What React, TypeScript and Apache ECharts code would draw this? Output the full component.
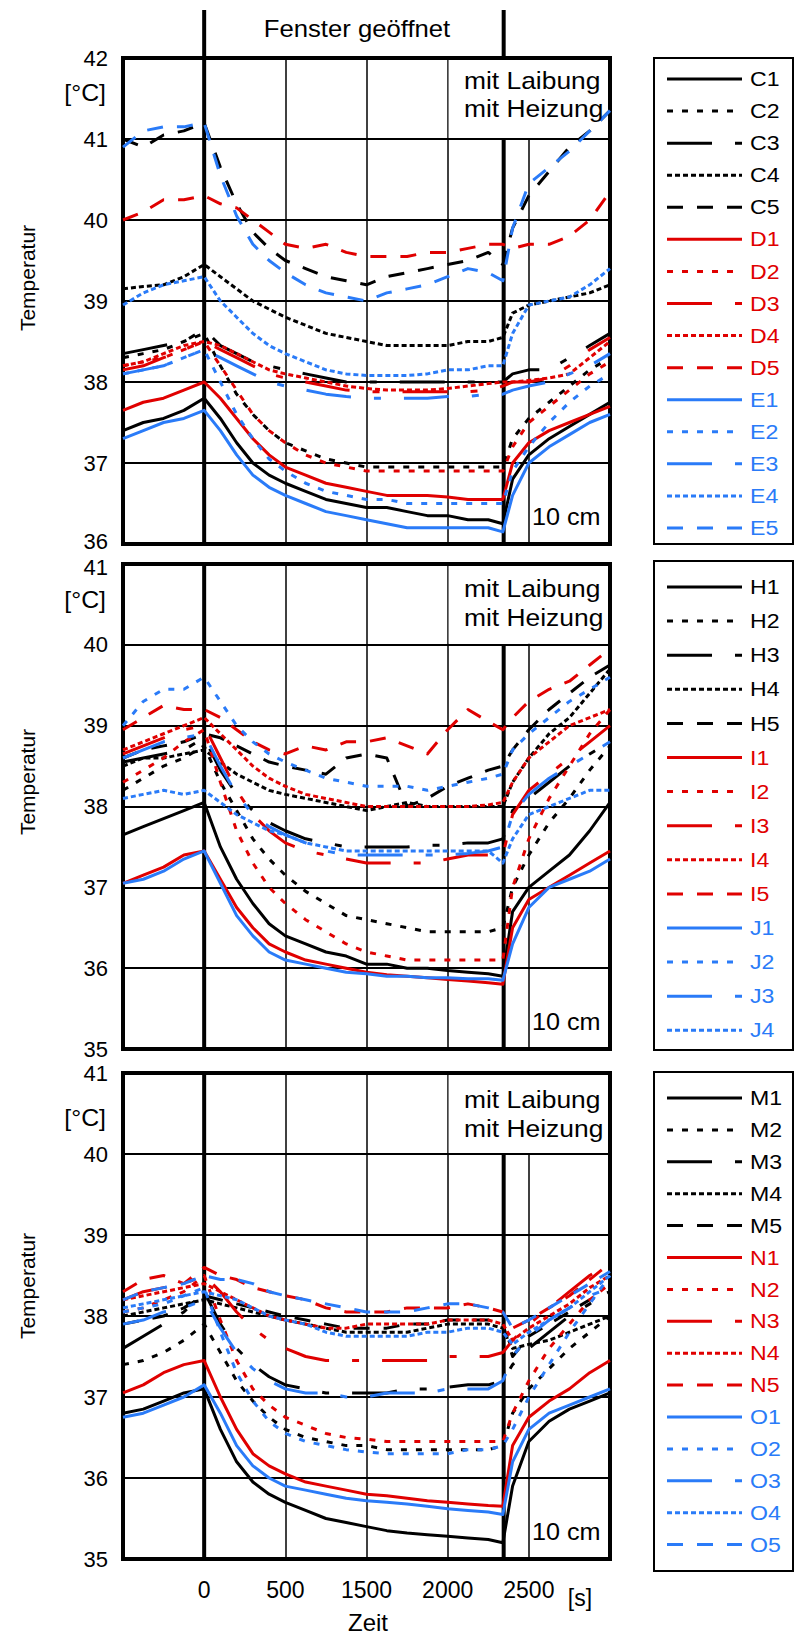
import { useEffect, useRef } from "react";
import * as echarts from "echarts";

// ---------- data ----------
const XS = [-1, -0.75, -0.5, -0.25, 0, 0.2, 0.4, 0.6, 0.8, 1, 1.25, 1.5, 1.75, 2, 2.25, 2.5, 2.75, 3, 3.25, 3.5, 3.68, 3.8, 4, 4.25, 4.5, 4.75, 5];
const X_TICKS = [-1, 0, 1, 2, 3, 4, 5];
const X_TICK_TEXT = ["", "0", "500", "1500", "2000", "2500", ""];
const WINDOW_OPEN = 0;
const WINDOW_CLOSE = 3.69;
const Y_MIN = [36, 35, 35];
const Y_MAX = [42, 41, 41];
const BOX_BOTTOM = [41, 40, 40];

// panel 1
const C1 = [37.4, 37.5, 37.55, 37.65, 37.8, 37.55, 37.25, 37.0, 36.85, 36.75, 36.65, 36.55, 36.5, 36.45, 36.45, 36.4, 36.35, 36.35, 36.3, 36.3, 36.25, 36.8, 37.1, 37.3, 37.45, 37.6, 37.75];
const C2 = [38.3, 38.35, 38.4, 38.5, 38.6, 38.2, 37.85, 37.6, 37.4, 37.25, 37.15, 37.05, 37.0, 36.95, 36.95, 36.95, 36.95, 36.95, 36.95, 36.95, 36.95, 37.3, 37.55, 37.75, 37.95, 38.15, 38.3];
const C3 = [38.35, 38.4, 38.45, 38.5, 38.65, 38.45, 38.35, 38.25, 38.2, 38.15, 38.1, 38.05, 38.0, 38.0, 38.0, 38.0, 38.0, 38.0, 38.0, 38.0, 38.0, 38.1, 38.15, 38.15, 38.3, 38.45, 38.6];
const C4 = [39.15, 39.18, 39.2, 39.3, 39.45, 39.3, 39.15, 39.0, 38.9, 38.8, 38.7, 38.6, 38.55, 38.5, 38.45, 38.45, 38.45, 38.45, 38.5, 38.5, 38.55, 38.85, 38.95, 39.0, 39.05, 39.1, 39.2];
const C5 = [41.0, 40.9, 41.05, 41.1, 41.2, 40.65, 40.2, 39.85, 39.65, 39.5, 39.4, 39.3, 39.25, 39.2, 39.3, 39.35, 39.4, 39.45, 39.5, 39.6, 39.45, 39.9, 40.3, 40.6, 40.9, 41.1, 41.35];
const D1 = [37.65, 37.75, 37.8, 37.9, 38.0, 37.8, 37.55, 37.3, 37.1, 36.95, 36.85, 36.75, 36.7, 36.65, 36.6, 36.6, 36.6, 36.58, 36.55, 36.55, 36.55, 37.0, 37.25, 37.4, 37.5, 37.6, 37.7];
const D2 = [38.2, 38.25, 38.3, 38.4, 38.5, 38.2, 37.9, 37.6, 37.4, 37.25, 37.1, 37.0, 36.95, 36.9, 36.9, 36.9, 36.9, 36.9, 36.9, 36.9, 36.9, 37.2, 37.5, 37.7, 37.9, 38.1, 38.25];
const D3 = [38.15, 38.2, 38.3, 38.4, 38.5, 38.4, 38.3, 38.2, 38.1, 38.05, 38.0, 37.95, 37.9, 37.88, 37.88, 37.88, 37.88, 37.88, 37.88, 37.9, 37.95, 38.0, 38.0, 38.05, 38.2, 38.4, 38.55];
const D4 = [38.2, 38.25, 38.35, 38.45, 38.5, 38.45, 38.35, 38.25, 38.15, 38.1, 38.05, 38.0, 37.95, 37.92, 37.9, 37.9, 37.9, 37.92, 37.95, 37.98, 38.0, 38.0, 38.02, 38.05, 38.1, 38.3, 38.5];
const D5 = [40.0, 40.1, 40.25, 40.25, 40.3, 40.2, 40.15, 40.0, 39.85, 39.7, 39.65, 39.7, 39.6, 39.55, 39.55, 39.55, 39.6, 39.6, 39.65, 39.7, 39.7, 39.65, 39.7, 39.7, 39.8, 40.0, 40.35];
const E1 = [37.3, 37.4, 37.5, 37.55, 37.65, 37.4, 37.1, 36.85, 36.7, 36.6, 36.5, 36.4, 36.35, 36.3, 36.25, 36.2, 36.2, 36.2, 36.2, 36.2, 36.15, 36.6, 37.0, 37.2, 37.35, 37.5, 37.6];
const E2 = [38.1, 38.15, 38.2, 38.3, 38.4, 38.0, 37.6, 37.3, 37.05, 36.9, 36.75, 36.65, 36.6, 36.55, 36.55, 36.5, 36.5, 36.5, 36.5, 36.5, 36.5, 36.9, 37.2, 37.5, 37.75, 37.95, 38.1];
const E3 = [38.1, 38.15, 38.2, 38.3, 38.4, 38.3, 38.2, 38.1, 38.0, 37.95, 37.9, 37.85, 37.82, 37.8, 37.8, 37.8, 37.8, 37.82, 37.82, 37.85, 37.85, 37.9, 37.95, 38.0, 38.1, 38.2, 38.35];
const E4 = [38.95, 39.1, 39.2, 39.25, 39.3, 39.0, 38.8, 38.6, 38.45, 38.35, 38.25, 38.15, 38.1, 38.08, 38.08, 38.08, 38.1, 38.15, 38.15, 38.2, 38.2, 38.6, 38.95, 39.0, 39.05, 39.2, 39.4];
const E5 = [40.9, 41.1, 41.15, 41.15, 41.2, 40.55, 40.05, 39.7, 39.5, 39.35, 39.2, 39.1, 39.05, 39.0, 39.1, 39.15, 39.2, 39.3, 39.4, 39.35, 39.25, 39.9, 40.45, 40.65, 40.85, 41.1, 41.35];

// panel 2
const H1 = [37.65, 37.75, 37.85, 37.95, 38.05, 37.5, 37.1, 36.8, 36.55, 36.4, 36.3, 36.2, 36.15, 36.05, 36.05, 36.0, 36.0, 35.97, 35.95, 35.93, 35.9, 36.7, 37.0, 37.2, 37.4, 37.7, 38.05];
const H2 = [38.2, 38.35, 38.5, 38.6, 38.75, 38.3, 37.95, 37.6, 37.35, 37.15, 36.95, 36.8, 36.65, 36.6, 36.55, 36.5, 36.45, 36.45, 36.45, 36.45, 36.5, 37.0, 37.4, 37.8, 38.1, 38.45, 38.75];
const H3 = [38.55, 38.6, 38.65, 38.7, 38.85, 38.45, 38.15, 37.95, 37.8, 37.7, 37.6, 37.55, 37.5, 37.5, 37.5, 37.5, 37.52, 37.52, 37.55, 37.55, 37.6, 37.95, 38.1, 38.3, 38.5, 38.65, 38.8];
const H4 = [38.5, 38.6, 38.6, 38.65, 38.7, 38.55, 38.4, 38.3, 38.2, 38.15, 38.1, 38.05, 38.0, 37.95, 38.0, 38.05, 38.0, 38.0, 38.0, 38.0, 38.0, 38.3, 38.6, 38.9, 39.1, 39.4, 39.7];
const H5 = [38.6, 38.7, 38.75, 38.8, 38.9, 38.85, 38.75, 38.65, 38.55, 38.5, 38.45, 38.4, 38.6, 38.65, 38.6, 38.0, 38.1, 38.25, 38.35, 38.45, 38.5, 38.7, 38.95, 39.2, 39.4, 39.6, 39.75];
const I1 = [37.05, 37.15, 37.25, 37.4, 37.45, 37.1, 36.75, 36.5, 36.3, 36.2, 36.1, 36.05, 36.0, 35.95, 35.92, 35.9, 35.88, 35.86, 35.84, 35.82, 35.8, 36.5, 36.85, 37.0, 37.15, 37.3, 37.45];
const I2 = [38.3, 38.45, 38.6, 38.8, 38.95, 38.3, 37.7, 37.3, 37.0, 36.8, 36.6, 36.45, 36.3, 36.2, 36.15, 36.1, 36.1, 36.1, 36.1, 36.1, 36.1, 37.0, 37.6, 38.1, 38.5, 38.9, 39.2];
const I3 = [38.65, 38.75, 38.85, 38.95, 39.0, 38.6, 38.2, 37.9, 37.7, 37.55, 37.45, 37.4, 37.35, 37.3, 37.3, 37.3, 37.3, 37.35, 37.4, 37.4, 37.4, 37.9, 38.2, 38.4, 38.6, 38.8, 39.0];
const I4 = [38.7, 38.8, 38.9, 39.0, 39.1, 38.9, 38.7, 38.5, 38.35, 38.25, 38.15, 38.1, 38.05, 38.0, 38.0, 38.0, 38.0, 38.0, 38.0, 38.02, 38.05, 38.3, 38.6, 38.8, 39.0, 39.1, 39.2];
const I5 = [38.95, 39.1, 39.25, 39.2, 39.2, 39.1, 38.95, 38.8, 38.7, 38.65, 38.75, 38.7, 38.8, 38.8, 38.85, 38.75, 38.65, 38.95, 39.2, 39.05, 38.95, 39.1, 39.3, 39.45, 39.55, 39.75, 39.95];
const J1 = [37.05, 37.1, 37.2, 37.35, 37.45, 37.05, 36.65, 36.4, 36.2, 36.1, 36.05, 36.0, 35.95, 35.93, 35.9, 35.9, 35.88, 35.88, 35.87, 35.87, 35.85, 36.3, 36.75, 37.0, 37.1, 37.2, 37.35];
const J2 = [39.0, 39.3, 39.45, 39.45, 39.6, 39.3, 39.0, 38.8, 38.65, 38.55, 38.45, 38.35, 38.3, 38.25, 38.25, 38.25, 38.2, 38.25, 38.3, 38.35, 38.4, 38.7, 38.9, 39.1, 39.3, 39.45, 39.6];
const J3 = [38.6, 38.7, 38.8, 38.85, 38.9, 38.5, 38.15, 37.9, 37.75, 37.65, 37.55, 37.45, 37.4, 37.4, 37.4, 37.4, 37.4, 37.4, 37.42, 37.45, 37.5, 37.9, 38.15, 38.35, 38.5, 38.65, 38.8];
const J4 = [38.1, 38.15, 38.2, 38.15, 38.2, 38.05, 37.9, 37.8, 37.7, 37.65, 37.55, 37.5, 37.45, 37.45, 37.45, 37.45, 37.45, 37.45, 37.45, 37.45, 37.3, 37.6, 37.9, 38.0, 38.1, 38.2, 38.2];

// panel 3
const M1 = [36.8, 36.85, 36.95, 37.05, 37.1, 36.6, 36.2, 35.95, 35.8, 35.7, 35.6, 35.5, 35.45, 35.4, 35.35, 35.32, 35.3, 35.28, 35.26, 35.24, 35.2, 35.9, 36.45, 36.7, 36.85, 36.95, 37.05];
const M2 = [37.4, 37.45, 37.55, 37.7, 37.9, 37.55, 37.2, 36.95, 36.75, 36.6, 36.5, 36.45, 36.4, 36.4, 36.35, 36.35, 36.35, 36.35, 36.35, 36.35, 36.4, 36.8, 37.1, 37.35, 37.6, 37.8, 38.0];
const M3 = [37.6, 37.75, 37.9, 38.05, 38.3, 37.9, 37.6, 37.4, 37.25, 37.15, 37.1, 37.05, 37.05, 37.05, 37.05, 37.1, 37.1, 37.12, 37.15, 37.15, 37.2, 37.4, 37.6, 37.8, 38.0, 38.15, 38.3];
const M4 = [38.0, 38.05, 38.1, 38.15, 38.2, 38.15, 38.1, 38.05, 38.0, 37.95, 37.9, 37.85, 37.8, 37.8, 37.8, 37.8, 37.85, 37.9, 37.9, 37.9, 37.85, 37.6, 37.65, 37.7, 37.8, 37.9, 38.0];
const M5 = [37.9, 37.95, 38.0, 38.1, 38.25, 38.2, 38.15, 38.1, 38.05, 38.0, 37.95, 37.9, 37.85, 37.85, 37.85, 37.9, 37.9, 37.95, 37.95, 37.95, 37.9, 37.5, 37.75, 37.9, 38.05, 38.2, 38.3];
const N1 = [37.05, 37.15, 37.3, 37.4, 37.45, 37.0, 36.6, 36.3, 36.15, 36.05, 35.95, 35.9, 35.85, 35.8, 35.78, 35.75, 35.72, 35.7, 35.68, 35.66, 35.65, 36.4, 36.75, 36.95, 37.1, 37.3, 37.45];
const N2 = [38.05, 38.1, 38.2, 38.3, 38.5, 37.95, 37.45, 37.1, 36.9, 36.75, 36.65, 36.55, 36.5, 36.48, 36.45, 36.45, 36.45, 36.45, 36.45, 36.45, 36.45, 36.8, 37.2, 37.6, 37.9, 38.2, 38.4];
const N3 = [38.2, 38.3, 38.35, 38.4, 38.5, 38.3, 38.05, 37.85, 37.7, 37.6, 37.5, 37.45, 37.45, 37.45, 37.45, 37.45, 37.45, 37.5, 37.5, 37.5, 37.55, 37.7, 37.9, 38.1, 38.3, 38.5, 38.65];
const N4 = [38.2, 38.25, 38.3, 38.35, 38.4, 38.3, 38.2, 38.1, 38.0, 37.95, 37.9, 37.85, 37.85, 37.9, 37.9, 37.9, 37.9, 37.95, 37.95, 37.95, 37.9, 37.7, 37.85, 38.0, 38.15, 38.35, 38.5];
const N5 = [38.3, 38.45, 38.5, 38.4, 38.6, 38.5, 38.45, 38.35, 38.3, 38.25, 38.2, 38.1, 38.05, 38.05, 38.05, 38.1, 38.1, 38.1, 38.15, 38.1, 38.05, 37.85, 37.95, 38.1, 38.25, 38.45, 38.65];
const O1 = [36.75, 36.8, 36.9, 37.0, 37.15, 36.8, 36.4, 36.15, 36.0, 35.9, 35.85, 35.8, 35.75, 35.72, 35.7, 35.68, 35.65, 35.62, 35.6, 35.58, 35.55, 36.2, 36.6, 36.8, 36.9, 37.0, 37.1];
const O2 = [38.05, 38.1, 38.15, 38.25, 38.35, 37.8, 37.3, 36.95, 36.7, 36.55, 36.45, 36.4, 36.35, 36.32, 36.3, 36.3, 36.3, 36.3, 36.35, 36.35, 36.4, 36.6, 37.0, 37.4, 37.8, 38.15, 38.5];
const O3 = [37.9, 37.95, 38.05, 38.1, 38.2, 37.85, 37.55, 37.35, 37.2, 37.1, 37.05, 37.05, 37.0, 37.0, 37.05, 37.05, 37.05, 37.1, 37.1, 37.1, 37.2, 37.5, 37.75, 37.95, 38.1, 38.25, 38.35];
const O4 = [38.1, 38.15, 38.2, 38.25, 38.3, 38.25, 38.2, 38.1, 38.0, 37.95, 37.9, 37.8, 37.75, 37.75, 37.75, 37.75, 37.8, 37.8, 37.85, 37.85, 37.8, 37.65, 37.8, 37.95, 38.1, 38.3, 38.5];
const O5 = [38.2, 38.3, 38.35, 38.4, 38.5, 38.45, 38.45, 38.4, 38.3, 38.25, 38.2, 38.15, 38.1, 38.05, 38.05, 38.05, 38.1, 38.15, 38.15, 38.1, 38.05, 37.85, 37.95, 38.1, 38.25, 38.4, 38.55];

const PANEL_SERIES: [string, number[]][][] = [
  [["C1", C1], ["C2", C2], ["C3", C3], ["C4", C4], ["C5", C5], ["D1", D1], ["D2", D2], ["D3", D3], ["D4", D4], ["D5", D5], ["E1", E1], ["E2", E2], ["E3", E3], ["E4", E4], ["E5", E5]],
  [["H1", H1], ["H2", H2], ["H3", H3], ["H4", H4], ["H5", H5], ["I1", I1], ["I2", I2], ["I3", I3], ["I4", I4], ["I5", I5], ["J1", J1], ["J2", J2], ["J3", J3], ["J4", J4]],
  [["M1", M1], ["M2", M2], ["M3", M3], ["M4", M4], ["M5", M5], ["N1", N1], ["N2", N2], ["N3", N3], ["N4", N4], ["N5", N5], ["O1", O1], ["O2", O2], ["O3", O3], ["O4", O4], ["O5", O5]],
];

// ---------- styles / layout ----------
const FONT = "'Liberation Sans', Arial, Helvetica, sans-serif";
const BLACK = "#000000";
const RED = "#e00000";
const BLUE = "#2a7bf8";
const GROUP_COLORS = [BLACK, RED, BLUE];
const DASHES: any[] = ["solid", [6, 9], [45, 23, 7, 23], [5, 3], [16, 14]];

const PLOT_LEFT = 123;
const PLOT_W = 487;
const PANEL_TOP = [58, 564, 1073];
const PANEL_H = [486, 485, 486];
const LEGEND_BOX = [
  { top: 58, bottom: 544, first: 79, step: 32.07 },
  { top: 561, bottom: 1050, first: 587, step: 34.1 },
  { top: 1072, bottom: 1571, first: 1098, step: 31.9 },
];
const CEL_Y = [93, 600, 1118];
const NOTE_Y = [[80, 108], [588, 617], [1099, 1128]];
const TEMP_Y = [278, 782, 1286];
const Y_FONT = 22;
// first panel's bottom label and second panel's top label sit close together;
// they are drawn separately, nudged apart slightly
const EDGE_LABEL_SHIFT = 3;

function colorOf(name: string, panel: number): string {
  const groups = [["C", "D", "E"], ["H", "I", "J"], ["M", "N", "O"]][panel];
  return GROUP_COLORS[groups.indexOf(name[0])];
}
function dashOf(name: string): any {
  return DASHES[parseInt(name.slice(1), 10) - 1];
}
function px(x: number) {
  return PLOT_LEFT + ((x - X_TICKS[0]) / (X_TICKS[X_TICKS.length - 1] - X_TICKS[0])) * PLOT_W;
}
function py(v: number, p: number) {
  return PANEL_TOP[p] + ((Y_MAX[p] - v) / (Y_MAX[p] - Y_MIN[p])) * PANEL_H[p];
}
function txt(x: number, y: number, text: string, size: number, align: string, opts: any = {}) {
  return {
    type: "text",
    z: 4,
    x,
    y,
    scaleX: opts.scaleX ?? 1,
    rotation: opts.rotation ?? 0,
    style: {
      x: 0,
      y: 0,
      text,
      fill: opts.color ?? BLACK,
      font: `${size}px ${FONT}`,
      textAlign: align,
      textVerticalAlign: "middle",
      align,
      verticalAlign: "middle",
    },
  };
}

export default function App() {
  const ref = useRef<HTMLDivElement>(null);
  useEffect(() => {
    document.body.style.margin = "0";
    const chart = echarts.init(ref.current!, null, { renderer: "svg" });
    const grids: any[] = [];
    const xAxes: any[] = [];
    const yAxes: any[] = [];
    const series: any[] = [];
    const graphics: any[] = [];

    for (let p = 0; p < 3; p++) {
      grids.push({
        left: PLOT_LEFT,
        top: PANEL_TOP[p],
        width: PLOT_W,
        height: PANEL_H[p],
        show: true,
        borderColor: BLACK,
        borderWidth: 4,
        backgroundColor: "transparent",
      });
      xAxes.push({
        type: "value",
        gridIndex: p,
        min: X_TICKS[0],
        max: X_TICKS[X_TICKS.length - 1],
        interval: 1,
        axisLine: { show: false },
        axisTick: { show: false },
        axisLabel: {
          show: p === 2,
          formatter: (v: number) => {
            const i = X_TICKS.indexOf(Math.round(v));
            return i >= 0 ? X_TICK_TEXT[i] : "";
          },
          fontSize: 23,
          color: BLACK,
          margin: 19,
          fontFamily: FONT,
        },
        splitLine: { show: true, lineStyle: { color: BLACK, width: 1.5 } },
      });
      yAxes.push({
        type: "value",
        gridIndex: p,
        min: Y_MIN[p],
        max: Y_MAX[p],
        interval: 1,
        axisLine: { show: false },
        axisTick: { show: false },
        axisLabel: {
          fontSize: Y_FONT,
          color: BLACK,
          margin: 15,
          fontFamily: FONT,
          showMinLabel: p !== 0,
          showMaxLabel: p !== 1,
        },
        splitLine: { show: true, lineStyle: { color: BLACK, width: 2 } },
      });
      for (const [name, vals] of PANEL_SERIES[p]) {
        series.push({
          type: "line",
          name,
          xAxisIndex: p,
          yAxisIndex: p,
          data: XS.map((x, i) => [x, vals[i]]),
          showSymbol: false,
          symbol: "none",
          silent: true,
          z: 3,
          lineStyle: { color: colorOf(name, p), width: 3, type: dashOf(name), cap: "butt", join: "round" },
        });
      }

      const top = PANEL_TOP[p];
      const bottom = PANEL_TOP[p] + PANEL_H[p];
      const right = PLOT_LEFT + PLOT_W;
      const boxBottom = py(BOX_BOTTOM[p], p);
      // white note box (covers grid lines, below series)
      graphics.push({
        type: "rect",
        z: 1,
        shape: { x: px(3) + 1, y: top + 2, width: right - 2 - (px(3) + 1), height: boxBottom - 1 - (top + 2) },
        style: { fill: "#ffffff" },
      });
      // thick event lines
      graphics.push({
        type: "line",
        z: 1.5,
        shape: { x1: px(WINDOW_OPEN), y1: top, x2: px(WINDOW_OPEN), y2: bottom },
        style: { stroke: BLACK, lineWidth: 4 },
      });
      graphics.push({
        type: "line",
        z: 1.5,
        shape: { x1: px(WINDOW_CLOSE), y1: boxBottom, x2: px(WINDOW_CLOSE), y2: bottom },
        style: { stroke: BLACK, lineWidth: 4 },
      });
      // texts
      graphics.push(txt(464, NOTE_Y[p][0], "mit Laibung", 24, "left", { scaleX: 1.1 }));
      graphics.push(txt(464, NOTE_Y[p][1], "mit Heizung", 24, "left", { scaleX: 1.1 }));
      graphics.push(txt(532, bottom - 27, "10 cm", 24, "left", { scaleX: 1.05 }));
      graphics.push(txt(106, CEL_Y[p], "[°C]", 23, "right", { scaleX: 1.08 }));
      graphics.push(txt(27, TEMP_Y[p], "Temperatur", 21, "center", { rotation: Math.PI / 2 }));

      // legend
      const lb = LEGEND_BOX[p];
      graphics.push({
        type: "rect",
        z: 4,
        shape: { x: 654, y: lb.top, width: 139, height: lb.bottom - lb.top },
        style: { fill: "#ffffff", stroke: BLACK, lineWidth: 2 },
      });
      PANEL_SERIES[p].forEach(([name], i) => {
        const y = lb.first + i * lb.step;
        const c = colorOf(name, p);
        const d = dashOf(name);
        graphics.push({
          type: "line",
          z: 5,
          shape: { x1: 667, y1: y, x2: 742, y2: y },
          style: { stroke: c, lineWidth: 3, lineDash: d === "solid" ? null : d, lineCap: "butt" },
        });
        const t = txt(750, y, name, 21, "left", { scaleX: 1.1, color: c });
        t.z = 5;
        graphics.push(t);
      });
    }

    // the two close edge labels between panel 1 and panel 2
    graphics.push(txt(PLOT_LEFT - 15, py(Y_MIN[0], 0) - EDGE_LABEL_SHIFT, String(Y_MIN[0]), Y_FONT, "right"));
    graphics.push(txt(PLOT_LEFT - 15, py(Y_MAX[1], 1) + EDGE_LABEL_SHIFT, String(Y_MAX[1]), Y_FONT, "right"));

    // lines above top panel
    [WINDOW_OPEN, WINDOW_CLOSE].forEach((x) => {
      graphics.push({
        type: "line",
        z: 1.5,
        shape: { x1: px(x), y1: 10, x2: px(x), y2: PANEL_TOP[0] },
        style: { stroke: BLACK, lineWidth: 4 },
      });
    });
    graphics.push(txt(357, 29, "Fenster geöffnet", 24, "center", { scaleX: 1.07 }));
    graphics.push(txt(580, 1598, "[s]", 23, "center"));
    graphics.push(txt(368, 1622, "Zeit", 24, "center"));

    chart.setOption({
      animation: false,
      backgroundColor: "#ffffff",
      textStyle: { fontFamily: FONT },
      grid: grids,
      xAxis: xAxes,
      yAxis: yAxes,
      series,
      graphic: { elements: graphics },
    });
    return () => chart.dispose();
  }, []);
  return <div ref={ref} style={{ position: "absolute", left: 0, top: 0, width: 795, height: 1635 }} />;
}
